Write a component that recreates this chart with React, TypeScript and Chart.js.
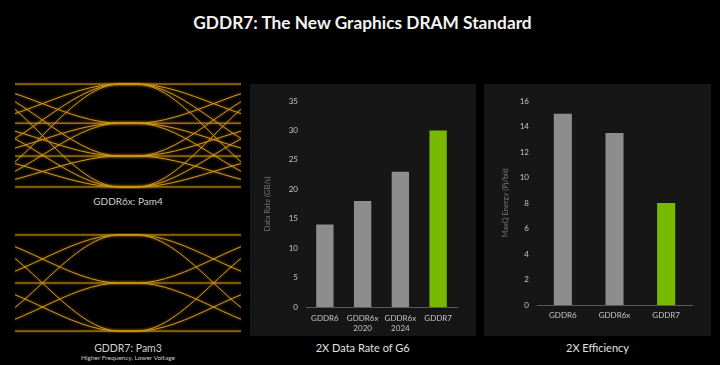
import React, { useEffect, useRef } from "react";
import { Chart, registerables } from "chart.js";
Chart.register(...registerables);

// ---------- data ----------
const rateCategories: (string | string[])[] = ["GDDR6", ["GDDR6x", "2020"], ["GDDR6x", "2024"], "GDDR7"];
const rateValues = [14, 18, 23, 30];
const rateTicks = [0, 5, 10, 15, 20, 25, 30, 35];

const energyCategories = ["GDDR6", "GDDR6x", "GDDR7"];
const energyValues = [15, 13.5, 8];
const energyTicks = [0, 2, 4, 6, 8, 10, 12, 14, 16];

// eye diagram signal levels (normalised) and symbol sample times (in UI)
const pam4Levels = [0, 0.3, 0.62, 1];
const pam3Levels = [0, 0.5, 1];
const symbolTimes = [-0.5, 0.5, 1.5];

const FONT = "Lato, 'Open Sans', sans-serif";
const GRAY = "#8d8d8d";
const GREEN = "#76b900";
const GOLD = "#cf9a1c";

const glowPlugin = {
  id: "glow",
  beforeDatasetsDraw(chart: any) {
    const c = chart.ctx;
    c.save();
    c.shadowColor = "rgba(230,150,0,0.7)";
    c.shadowBlur = 3;
  },
  afterDatasetsDraw(chart: any) {
    chart.ctx.restore();
  },
};

function eyeDatasets(levels: number[]) {
  const sets: any[] = [];
  levels.forEach((a) => {
    levels.forEach((b) => {
      const seq = [a, b, a];
      const pts: { x: number; y: number }[] = [];
      seq.forEach((v, k) => {
        pts.push({ x: symbolTimes[k] - 0.05, y: v });
        pts.push({ x: symbolTimes[k] + 0.05, y: v });
      });
      sets.push({
        data: pts,
        borderColor: GOLD,
        borderWidth: 1,
        pointRadius: 0,
        fill: false,
        cubicInterpolationMode: "monotone",
      });
    });
  });
  return sets;
}

function EyeChart({ levels, style }: { levels: number[]; style: React.CSSProperties }) {
  const ref = useRef<HTMLCanvasElement>(null);
  useEffect(() => {
    const chart = new Chart(ref.current!, {
      type: "line",
      data: { datasets: eyeDatasets(levels) },
      options: {
        animation: false,
        responsive: false,
        maintainAspectRatio: false,
        layout: { padding: 0 },
        plugins: { legend: { display: false }, tooltip: { enabled: false } },
        scales: {
          x: { type: "linear", min: -0.16, max: 1.16, display: false },
          y: { min: -0.02, max: 1.02, display: false },
        },
      },
      plugins: [glowPlugin],
    });
    return () => chart.destroy();
  }, []);
  return <canvas ref={ref} width={style.width as number} height={style.height as number} style={{ position: "absolute", ...style }} />;
}

function BarChart(props: {
  labels: (string | string[])[];
  values: number[];
  ticks: number[];
  title: string;
  pad: { left: number; right: number; top: number };
  yWidth: number;
  xHeight: number;
  xPad: number;
  barPct: number;
  style: React.CSSProperties;
}) {
  const ref = useRef<HTMLCanvasElement>(null);
  useEffect(() => {
    const colors = props.labels.map((l) => (String(l) === "GDDR7" ? GREEN : GRAY));
    const chart = new Chart(ref.current!, {
      type: "bar",
      data: {
        labels: props.labels as any,
        datasets: [
          {
            data: props.values,
            backgroundColor: colors,
            borderColor: colors,
            borderWidth: 0,
            barPercentage: props.barPct,
            categoryPercentage: 1,
          },
        ],
      },
      options: {
        animation: false,
        responsive: false,
        maintainAspectRatio: false,
        layout: { padding: { left: props.pad.left, right: props.pad.right, top: props.pad.top, bottom: 0 } },
        plugins: { legend: { display: false }, tooltip: { enabled: false } },
        scales: {
          x: {
            grid: { display: false, drawTicks: false, tickLength: 0 },
            border: { display: true, color: "#5a5a5a", width: 1 },
            ticks: { color: "#c4c4c4", font: { family: FONT, size: 8, lineHeight: 1.3 }, padding: props.xPad, maxRotation: 0 },
            afterFit: (s: any) => {
              s.height = props.xHeight;
            },
          },
          y: {
            min: props.ticks[0],
            max: props.ticks[props.ticks.length - 1],
            afterBuildTicks: (s: any) => {
              s.ticks = props.ticks.map((v) => ({ value: v }));
            },
            grid: { display: false, drawTicks: false, tickLength: 0 },
            border: { display: false },
            ticks: { color: "#c4c4c4", font: { family: FONT, size: 8 }, padding: 8 },
            title: {
              display: true,
              text: props.title,
              color: "#767676",
              font: { family: FONT, size: 7.5 },
              padding: { top: 0, bottom: 0 },
            },
            afterFit: (s: any) => {
              s.width = props.yWidth;
            },
          },
        },
      },
    });
    return () => chart.destroy();
  }, []);
  return (
    <canvas
      ref={ref}
      width={props.style.width as number}
      height={props.style.height as number}
      style={{ position: "absolute", background: "#161616", ...props.style }}
    />
  );
}

function Txt({ x, y, w, size, color, bold, children }: any) {
  return (
    <div
      style={{
        position: "absolute",
        left: x - w / 2,
        top: y - size * 0.6,
        width: w,
        height: size * 1.2,
        lineHeight: `${size * 1.2}px`,
        fontSize: size,
        fontFamily: FONT,
        fontWeight: bold ? 700 : 400,
        color,
        textAlign: "center",
        whiteSpace: "nowrap",
      }}
    >
      {children}
    </div>
  );
}

export default function App() {
  useEffect(() => {
    document.body.style.margin = "0";
    document.body.style.background = "#000";
  }, []);
  return (
    <div style={{ position: "relative", width: 720, height: 365, background: "#000", overflow: "hidden" }}>
      <Txt x={362.5} y={23} w={500} size={17.3} color="#f2f2f2" bold>
        GDDR7: The New Graphics DRAM Standard
      </Txt>

      <EyeChart levels={pam4Levels} style={{ left: 15, top: 82, width: 226, height: 107 }} />
      <Txt x={128} y={200.5} w={200} size={10} color="#d0d0d0">
        GDDR6x: Pam4
      </Txt>

      <EyeChart levels={pam3Levels} style={{ left: 15, top: 233, width: 226, height: 100 }} />
      <Txt x={128} y={348} w={200} size={10.5} color="#d0d0d0">
        GDDR7: Pam3
      </Txt>
      <Txt x={128} y={357.5} w={200} size={6.5} color="#c8c8c8">
        Higher Frequency, Lower Voltage
      </Txt>

      <BarChart
        labels={rateCategories}
        values={rateValues}
        ticks={rateTicks}
        title="Data Rate (GB/s)"
        pad={{ left: 13, right: 19, top: 17 }}
        yWidth={43}
        xHeight={29}
        xPad={6}
        barPct={0.46}
        style={{ left: 250, top: 84, width: 226, height: 252 }}
      />
      <Txt x={362.7} y={348} w={200} size={11} color="#e0e0e0">
        2X Data Rate of G6
      </Txt>

      <BarChart
        labels={energyCategories}
        values={energyValues}
        ticks={energyTicks}
        title="MaxQ Energy (Pj/bit)"
        pad={{ left: 17, right: 19, top: 17 }}
        yWidth={36}
        xHeight={31}
        xPad={5.5}
        barPct={0.35}
        style={{ left: 484, top: 84, width: 227, height: 252 }}
      />
      <Txt x={597.5} y={348} w={200} size={11} color="#e0e0e0">
        2X Efficiency
      </Txt>
    </div>
  );
}
